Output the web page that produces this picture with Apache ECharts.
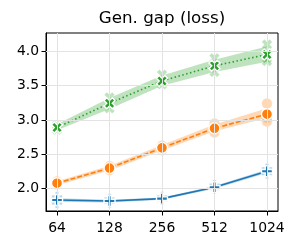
<!DOCTYPE html>
<html><head><meta charset="utf-8">
<script src="https://cdn.jsdelivr.net/npm/echarts@6/dist/echarts.min.js"></script>
<style>html,body{margin:0;padding:0;background:#fff}#c{width:300px;height:250px}</style>
</head><body><div id="c"></div>
<script>
const categories = ['64','128','256','512','1024'];
const titleText = 'Gen. gap (loss)';
const xTicks = [0, 1, 2, 3, 4];
const yTicks = [2.0, 2.5, 3.0, 3.5, 4.0];

// means
const blueMean   = [1.835, 1.82, 1.855, 2.02, 2.255];
const orangeMean = [2.08, 2.30, 2.595, 2.88, 3.085];
const greenMean  = [2.89, 3.245, 3.57, 3.79, 3.955];
// confidence bands
const blueLow   = [1.81, 1.80, 1.84, 2.00, 2.23];
const blueHigh  = [1.86, 1.84, 1.87, 2.04, 2.28];
const orangeLow = [2.05, 2.265, 2.555, 2.835, 3.03];
const orangeHigh= [2.11, 2.335, 2.635, 2.935, 3.17];
const greenLow  = [2.85, 3.16, 3.50, 3.70, 3.85];
const greenHigh = [2.94, 3.32, 3.65, 3.88, 4.07];
// individual runs (3 per x)
const blueRuns   = [[1.79,1.84,1.88],[1.80,1.82,1.85],[1.84,1.86,1.88],[2.00,2.02,2.05],[2.22,2.25,2.29]];
const orangeRuns = [[2.06,2.08,2.11],[2.27,2.30,2.33],[2.56,2.59,2.63],[2.82,2.88,2.95],[2.98,3.03,3.24]];
const greenRuns  = [[2.86,2.89,2.92],[3.17,3.24,3.33],[3.52,3.56,3.66],[3.70,3.77,3.90],[3.86,3.90,4.10]];

const C = {blue:'#1f77b4', orange:'#ff7f0e', green:'#2ca02c'};
const FONT = "'DejaVu Sans'";
const symX = 'path://M0,0.25 L0.25,0 L0.5,0.25 L0.75,0 L1,0.25 L0.75,0.5 L1,0.75 L0.75,1 L0.5,0.75 L0.25,1 L0,0.75 L0.25,0.5 Z';
const symP = 'path://M0.34,0 L0.66,0 L0.66,0.34 L1,0.34 L1,0.66 L0.66,0.66 L0.66,1 L0.34,1 L0.34,0.66 L0,0.66 L0,0.34 L0.34,0.34 Z';

function pts(arr){ return arr.map((v,i)=>[i,v]); }
function runPts(runs){ const o=[]; runs.forEach((r,i)=>r.forEach(v=>o.push([i,v]))); return o; }

const series = [];
// grid lines via markLine
series.push({type:'line', data:[], silent:true, z:0,
  markLine:{silent:true, symbol:'none', label:{show:false}, animation:false,
    lineStyle:{color:'#e3e3e3', width:1, type:'solid'},
    data: xTicks.map(v=>({xAxis:v})).concat(yTicks.map(v=>({yAxis:v})))}});

function addGroup(name, color, low, high, mean, runs, symbol, lineType){
  series.push({type:'custom', silent:true, z:1,
    data: low.map((v,i)=>[i, v, high[i]]),
    renderItem:function(params, api){
      if (params.dataIndex !== 0) return null;
      const top = [], bot = [];
      for (let i=0;i<low.length;i++){ top.push(api.coord([i, high[i]])); bot.push(api.coord([i, low[i]])); }
      return {type:'polygon', shape:{points: top.concat(bot.reverse())},
        style:{fill:color, opacity:0.3}};
    }});
  series.push({type:'scatter', data:runPts(runs), symbol:symbol, symbolSize:10.5,
    itemStyle:{color:color, opacity:0.3, borderColor:'#fff', borderWidth:0.8}, z:2});
  series.push({type:'line', data:pts(mean), symbol:symbol, symbolSize:11, showSymbol:true,
    lineStyle:{color:color, width:1.6, type:lineType},
    itemStyle:{color:color, borderColor:'#fff', borderWidth:1.4}, z:3});
}
addGroup('blue', C.blue, blueLow, blueHigh, blueMean, blueRuns, symP, 'solid');
addGroup('orange', C.orange, orangeLow, orangeHigh, orangeMean, orangeRuns, 'circle', [5,2]);
addGroup('green', C.green, greenLow, greenHigh, greenMean, greenRuns, symX, [1.5,2.5]);

const chart = echarts.init(document.getElementById('c'), null, {renderer:'canvas'});
chart.setOption({
  animation:false,
  backgroundColor:'#fff',
  title:{text:titleText, left:162, top:10, padding:0, textAlign:'center',
    textStyle:{fontFamily:FONT, fontSize:16.7, fontWeight:'normal', color:'#000'}},
  grid:{left:46, right:22, top:33, bottom:39, show:true, borderColor:'#000', borderWidth:1},
  xAxis:{type:'value', min:-0.21, max:4.21,
    axisLine:{show:true, onZero:false, lineStyle:{color:'#000', width:1}},
    axisTick:{show:true, length:4.5, customValues:xTicks, lineStyle:{color:'#000'}},
    axisLabel:{customValues:xTicks, formatter:v=>categories[Math.round(v)]||'', margin:10,
      fontFamily:FONT, fontSize:13.9, color:'#000'},
    splitLine:{show:false}},
  yAxis:{type:'value', min:1.675, max:4.268,
    axisLine:{show:true, onZero:false, lineStyle:{color:'#000', width:1}},
    axisTick:{show:true, length:4.5, customValues:yTicks, lineStyle:{color:'#000'}},
    axisLabel:{customValues:yTicks, formatter:v=>v.toFixed(1), margin:7,
      fontFamily:FONT, fontSize:13.9, color:'#000'},
    splitLine:{show:false}},
  series:series
});
</script></body></html>
